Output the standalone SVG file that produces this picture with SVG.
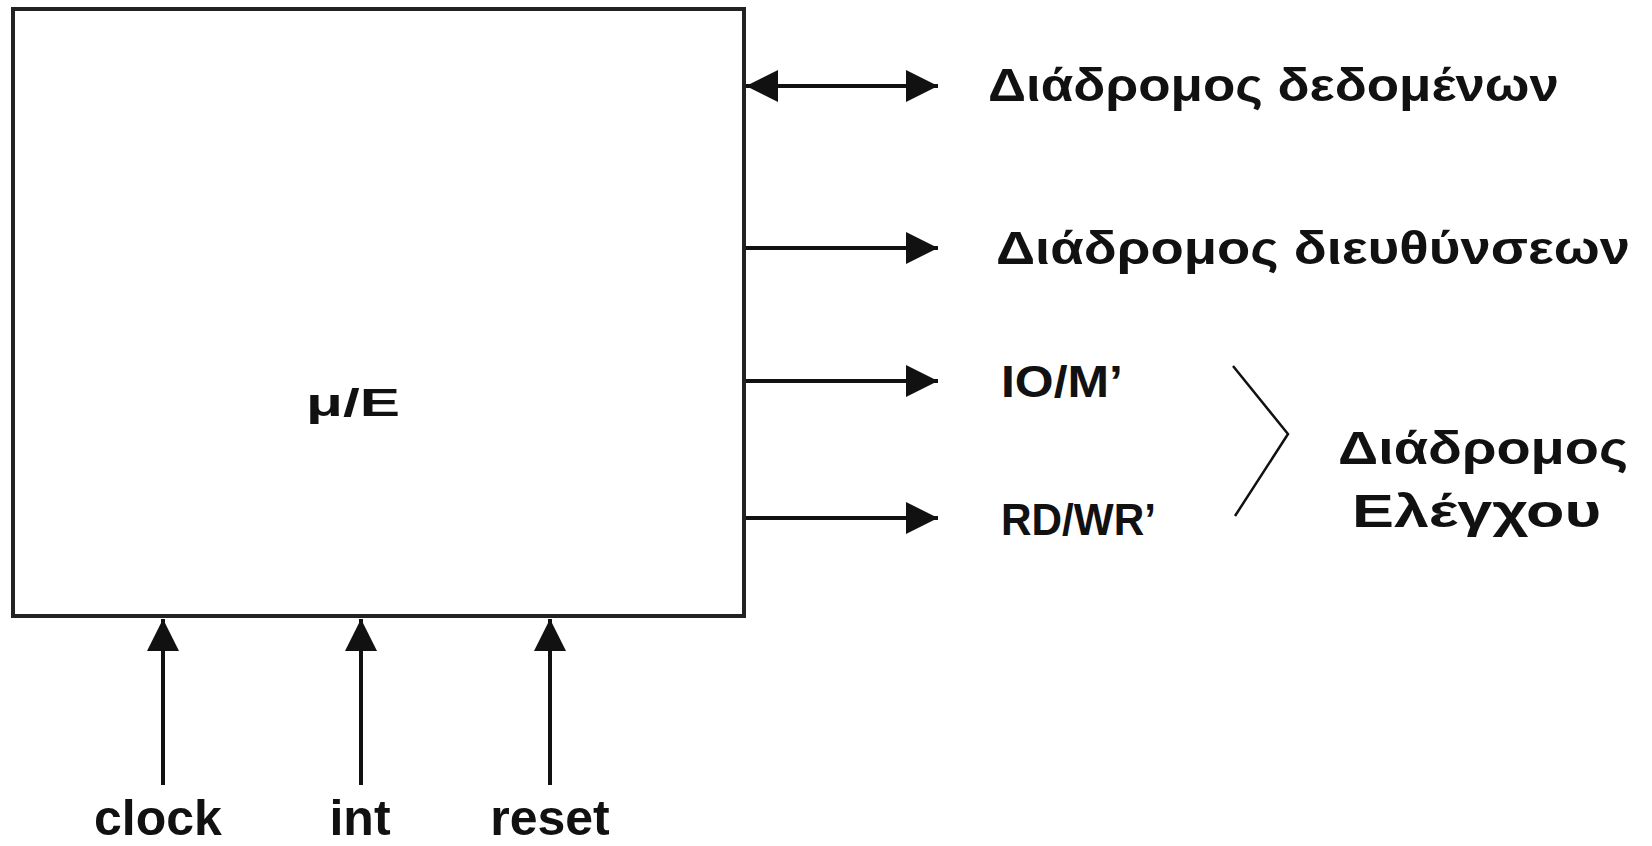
<svg xmlns="http://www.w3.org/2000/svg" width="1652" height="846" viewBox="0 0 1652 846">
  <style>
    .lbl { font-family: "Liberation Sans", Arial, sans-serif; font-weight: bold; fill: #111; }
    .wire { stroke: #111; stroke-width: 4; fill: none; }
    .box { stroke: #222; stroke-width: 4; fill: #fff; }
    .brace { stroke: #111; stroke-width: 2.5; fill: none; }
  </style>
  <defs>
    <marker id="head" viewBox="0 0 10 10" refX="10" refY="5" markerWidth="8" markerHeight="8" markerUnits="strokeWidth" orient="auto-start-reverse">
      <path d="M0,0 L10,5 L0,10 Z" fill="#111"/>
    </marker>
  </defs>
  <rect width="1652" height="846" fill="#fff"/>

  <!-- processor block -->
  <g id="cpu">
    <rect class="box" x="13" y="9" width="731" height="607"/>
    <text class="lbl" x="306" y="416" font-size="39" textLength="94" lengthAdjust="spacingAndGlyphs">μ/E</text>
  </g>

  <!-- buses and control lines -->
  <g id="connectors">
    <line class="wire" x1="746" y1="86" x2="938" y2="86" marker-start="url(#head)" marker-end="url(#head)"/>
    <line class="wire" x1="746" y1="248" x2="938" y2="248" marker-end="url(#head)"/>
    <line class="wire" x1="746" y1="381" x2="938" y2="381" marker-end="url(#head)"/>
    <line class="wire" x1="746" y1="518" x2="938" y2="518" marker-end="url(#head)"/>
    <line class="wire" x1="163" y1="785" x2="163" y2="619" marker-end="url(#head)"/>
    <line class="wire" x1="361" y1="785" x2="361" y2="619" marker-end="url(#head)"/>
    <line class="wire" x1="550" y1="785" x2="550" y2="619" marker-end="url(#head)"/>
    <polyline class="brace" points="1233,366 1288,434 1235,516"/>
  </g>

  <g id="data-bus">
    <text class="lbl" x="988" y="101" font-size="46" textLength="571" lengthAdjust="spacingAndGlyphs">Διάδρομος δεδομένων</text>
  </g>
  <g id="address-bus">
    <text class="lbl" x="996" y="264" font-size="46" textLength="634" lengthAdjust="spacingAndGlyphs">Διάδρομος διευθύνσεων</text>
  </g>
  <g id="io-m">
    <text class="lbl" x="1001" y="397" font-size="44" textLength="122" lengthAdjust="spacingAndGlyphs">IO/M’</text>
  </g>
  <g id="rd-wr">
    <text class="lbl" x="1001" y="535" font-size="44" textLength="155" lengthAdjust="spacingAndGlyphs">RD/WR’</text>
  </g>
  <g id="control-bus">
    <text class="lbl" x="1338" y="464" font-size="46" textLength="290" lengthAdjust="spacingAndGlyphs">Διάδρομος</text>
    <text class="lbl" x="1352" y="527" font-size="46" textLength="249" lengthAdjust="spacingAndGlyphs">Ελέγχου</text>
  </g>
  <g id="clock">
    <text class="lbl" x="158" y="835" font-size="50" text-anchor="middle">clock</text>
  </g>
  <g id="int">
    <text class="lbl" x="360" y="835" font-size="50" text-anchor="middle">int</text>
  </g>
  <g id="reset">
    <text class="lbl" x="550" y="835" font-size="50" text-anchor="middle">reset</text>
  </g>
</svg>
